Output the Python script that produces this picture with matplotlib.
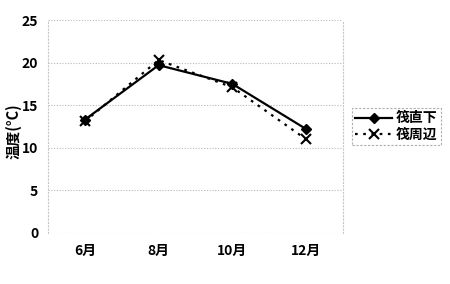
import matplotlib
matplotlib.use("Agg")
import matplotlib.pyplot as plt

plt.rcParams['font.family'] = ['Noto Sans CJK JP', 'DejaVu Sans']

months = ['6月', '8月', '10月', '12月']
under_raft = [13.3, 19.7, 17.5, 12.2]
around_raft = [13.1, 20.3, 17.1, 11.0]
yticks = [0, 5, 10, 15, 20, 25]

fig = plt.figure(figsize=(4.5, 2.84), dpi=100)
ax = fig.add_axes([48/450, 1-233/284, (343-48)/450, (233-20)/284])

x = list(range(len(months)))
ax.plot(x, under_raft, color='black', lw=1.6, marker='D', ms=5.5, label='筏直下')
ax.plot(x, around_raft, color='black', lw=1.6, ls=(0, (1.2, 2.5)), marker='x', ms=7,
        mew=1.5, label='筏周辺')

ax.set_xlim(-0.5, 3.5)
ax.set_ylim(0, 25)
ax.set_yticks(yticks)
ax.set_xticks(x)
ax.set_xticklabels(months)
ax.tick_params(length=0, labelsize=10)
for lab in ax.get_xticklabels() + ax.get_yticklabels():
    lab.set_fontweight('bold')
ax.tick_params(axis='y', pad=7)
ax.tick_params(axis='x', pad=8)
ax.grid(axis='y', color='#b8b8b8', ls=(0, (1, 1.5)), lw=0.8)
for s in ax.spines.values():
    s.set_color('#c8c8c8')
    s.set_linestyle((0, (1, 2)))
    s.set_linewidth(0.8)
ax.spines['top'].set_visible(False)
ax.spines['bottom'].set_visible(False)

ax.set_ylabel('温度(°C)', fontsize=10.5, fontweight='bold')
ax.yaxis.set_label_coords(-0.09, 0.48)

leg = ax.legend(loc='upper left', bbox_to_anchor=(352/450, 1-108/284),
                bbox_transform=fig.transFigure, frameon=True, fancybox=False,
                prop={'weight': 'bold', 'size': 10}, handlelength=2.6,
                handletextpad=0.3, borderpad=0.25, labelspacing=0.15, borderaxespad=0)
leg.get_frame().set_edgecolor('#999999')
leg.get_frame().set_linestyle((0, (2, 1.5)))
leg.get_frame().set_linewidth(0.8)

fig.savefig('out.png', dpi=100)
